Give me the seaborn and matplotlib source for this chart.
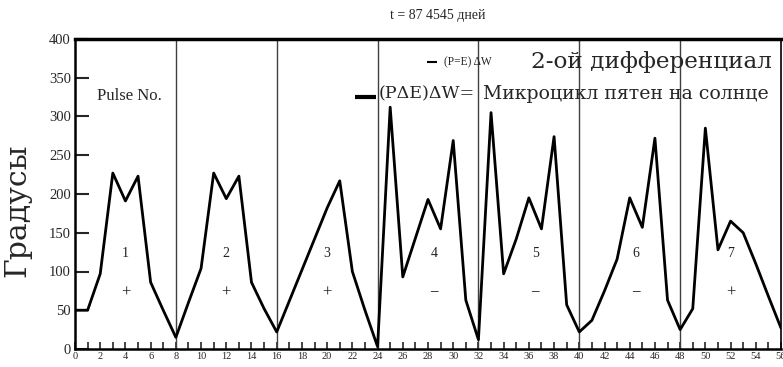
import matplotlib
matplotlib.use("Agg")
import matplotlib.pyplot as plt
import seaborn as sns
import pandas as pd

# ------------------------------
# data

days = list(range(0, 57))
degrees = [
    50, 50, 97, 227, 191, 223, 86, 50,
    15, 60, 104, 227, 194, 223, 86, 52,
    22, 62, 102, 142, 182, 217, 100, 50,
    3, 312, 93, 143, 193, 155, 269, 63,
    12, 305, 97, 142, 195, 155, 274, 57,
    22, 37, 75, 116, 195, 157, 272, 63,
    25, 52, 285, 128, 165, 150, 110, 68,
    27,
]
pulse_bounds = [8, 16, 24, 32, 40, 48]
pulse_numbers = ["1", "2", "3", "4", "5", "6", "7"]
pulse_centers = [4, 12, 20, 28.5, 36.5, 44.5, 52]
pulse_signs = ["+", "+", "+", "\u2212", "\u2212", "\u2212", "+"]

TITLE = "t = 87 4545 дней"
YLABEL = "Градусы"

# ------------------------------

sns.set_style("ticks")
plt.rcParams["font.family"] = ["Liberation Serif", "DejaVu Serif"]
plt.rcParams["axes.unicode_minus"] = True

DPI = 100
FIGSIZE = (783 / DPI, 367 / DPI)

df = pd.DataFrame({"day": days, "deg": degrees})

fig = plt.figure(figsize=FIGSIZE, dpi=DPI)
ax = fig.add_axes([75 / 783, 18 / 367, 706 / 783, 310 / 367])

for b in pulse_bounds:
    ax.axvline(b, color="#404040", lw=1.0, zorder=1)

sns.lineplot(data=df, x="day", y="deg", color="black", lw=2.0, ax=ax, zorder=3)

for c, n, s in zip(pulse_centers, pulse_numbers, pulse_signs):
    ax.text(c, 123, n, ha="center", va="center", fontsize=10, color="#222222")
    ax.text(c, 73, s, ha="center", va="center", fontsize=12, color="#222222")

ax.text(4.3, 326, "Pulse No.", ha="center", va="center", fontsize=12)

# legend-like annotations
ax.plot([27.9, 28.7], [370, 370], color="black", lw=1.5, solid_capstyle="butt")
ax.text(29.3, 370, "(P=E) \u0394W", ha="left", va="center", fontsize=8.3)
ax.text(36.2, 370, "2-ой дифференциал", ha="left", va="center", fontsize=16.7,
        family=["DejaVu Serif"])
ax.plot([22.2, 23.9], [325, 325], color="black", lw=3.0, solid_capstyle="butt")
ax.text(24.1, 329, "(P\u0394E)\u0394W=", ha="left", va="center", fontsize=12.6,
        family=["DejaVu Serif"])
ax.text(32.4, 329, "Микроцикл пятен на солнце", ha="left", va="center", fontsize=13.6,
        family=["DejaVu Serif"])

ax.set_xlim(0, 56)
ax.set_ylim(0, 400)
ax.set_xticks(range(0, 57, 2))
ax.set_xticks(range(1, 57, 2), minor=True)
ax.set_yticks(range(0, 401, 50))
ax.tick_params(axis="x", which="both", direction="in", length=5, width=1.2,
               labelsize=7.5, pad=2)
ax.tick_params(axis="y", direction="in", length=10, width=1.5, labelsize=10.5, pad=3)

ax.set_xlabel("")
ax.set_ylabel(YLABEL, fontsize=21.5, family=["DejaVu Serif"])
ax.yaxis.set_label_coords(-0.062, 0.448)

for side in ["left", "bottom", "top", "right"]:
    ax.spines[side].set_visible(True)
    ax.spines[side].set_color("black")
ax.spines["left"].set_linewidth(1.8)
ax.spines["bottom"].set_linewidth(1.8)
ax.spines["top"].set_linewidth(2.5)
ax.spines["right"].set_linewidth(1.2)

fig.text(438 / 783, 1 - 16 / 367, TITLE, ha="center", va="center", fontsize=10)

fig.savefig("out.png", dpi=DPI)
